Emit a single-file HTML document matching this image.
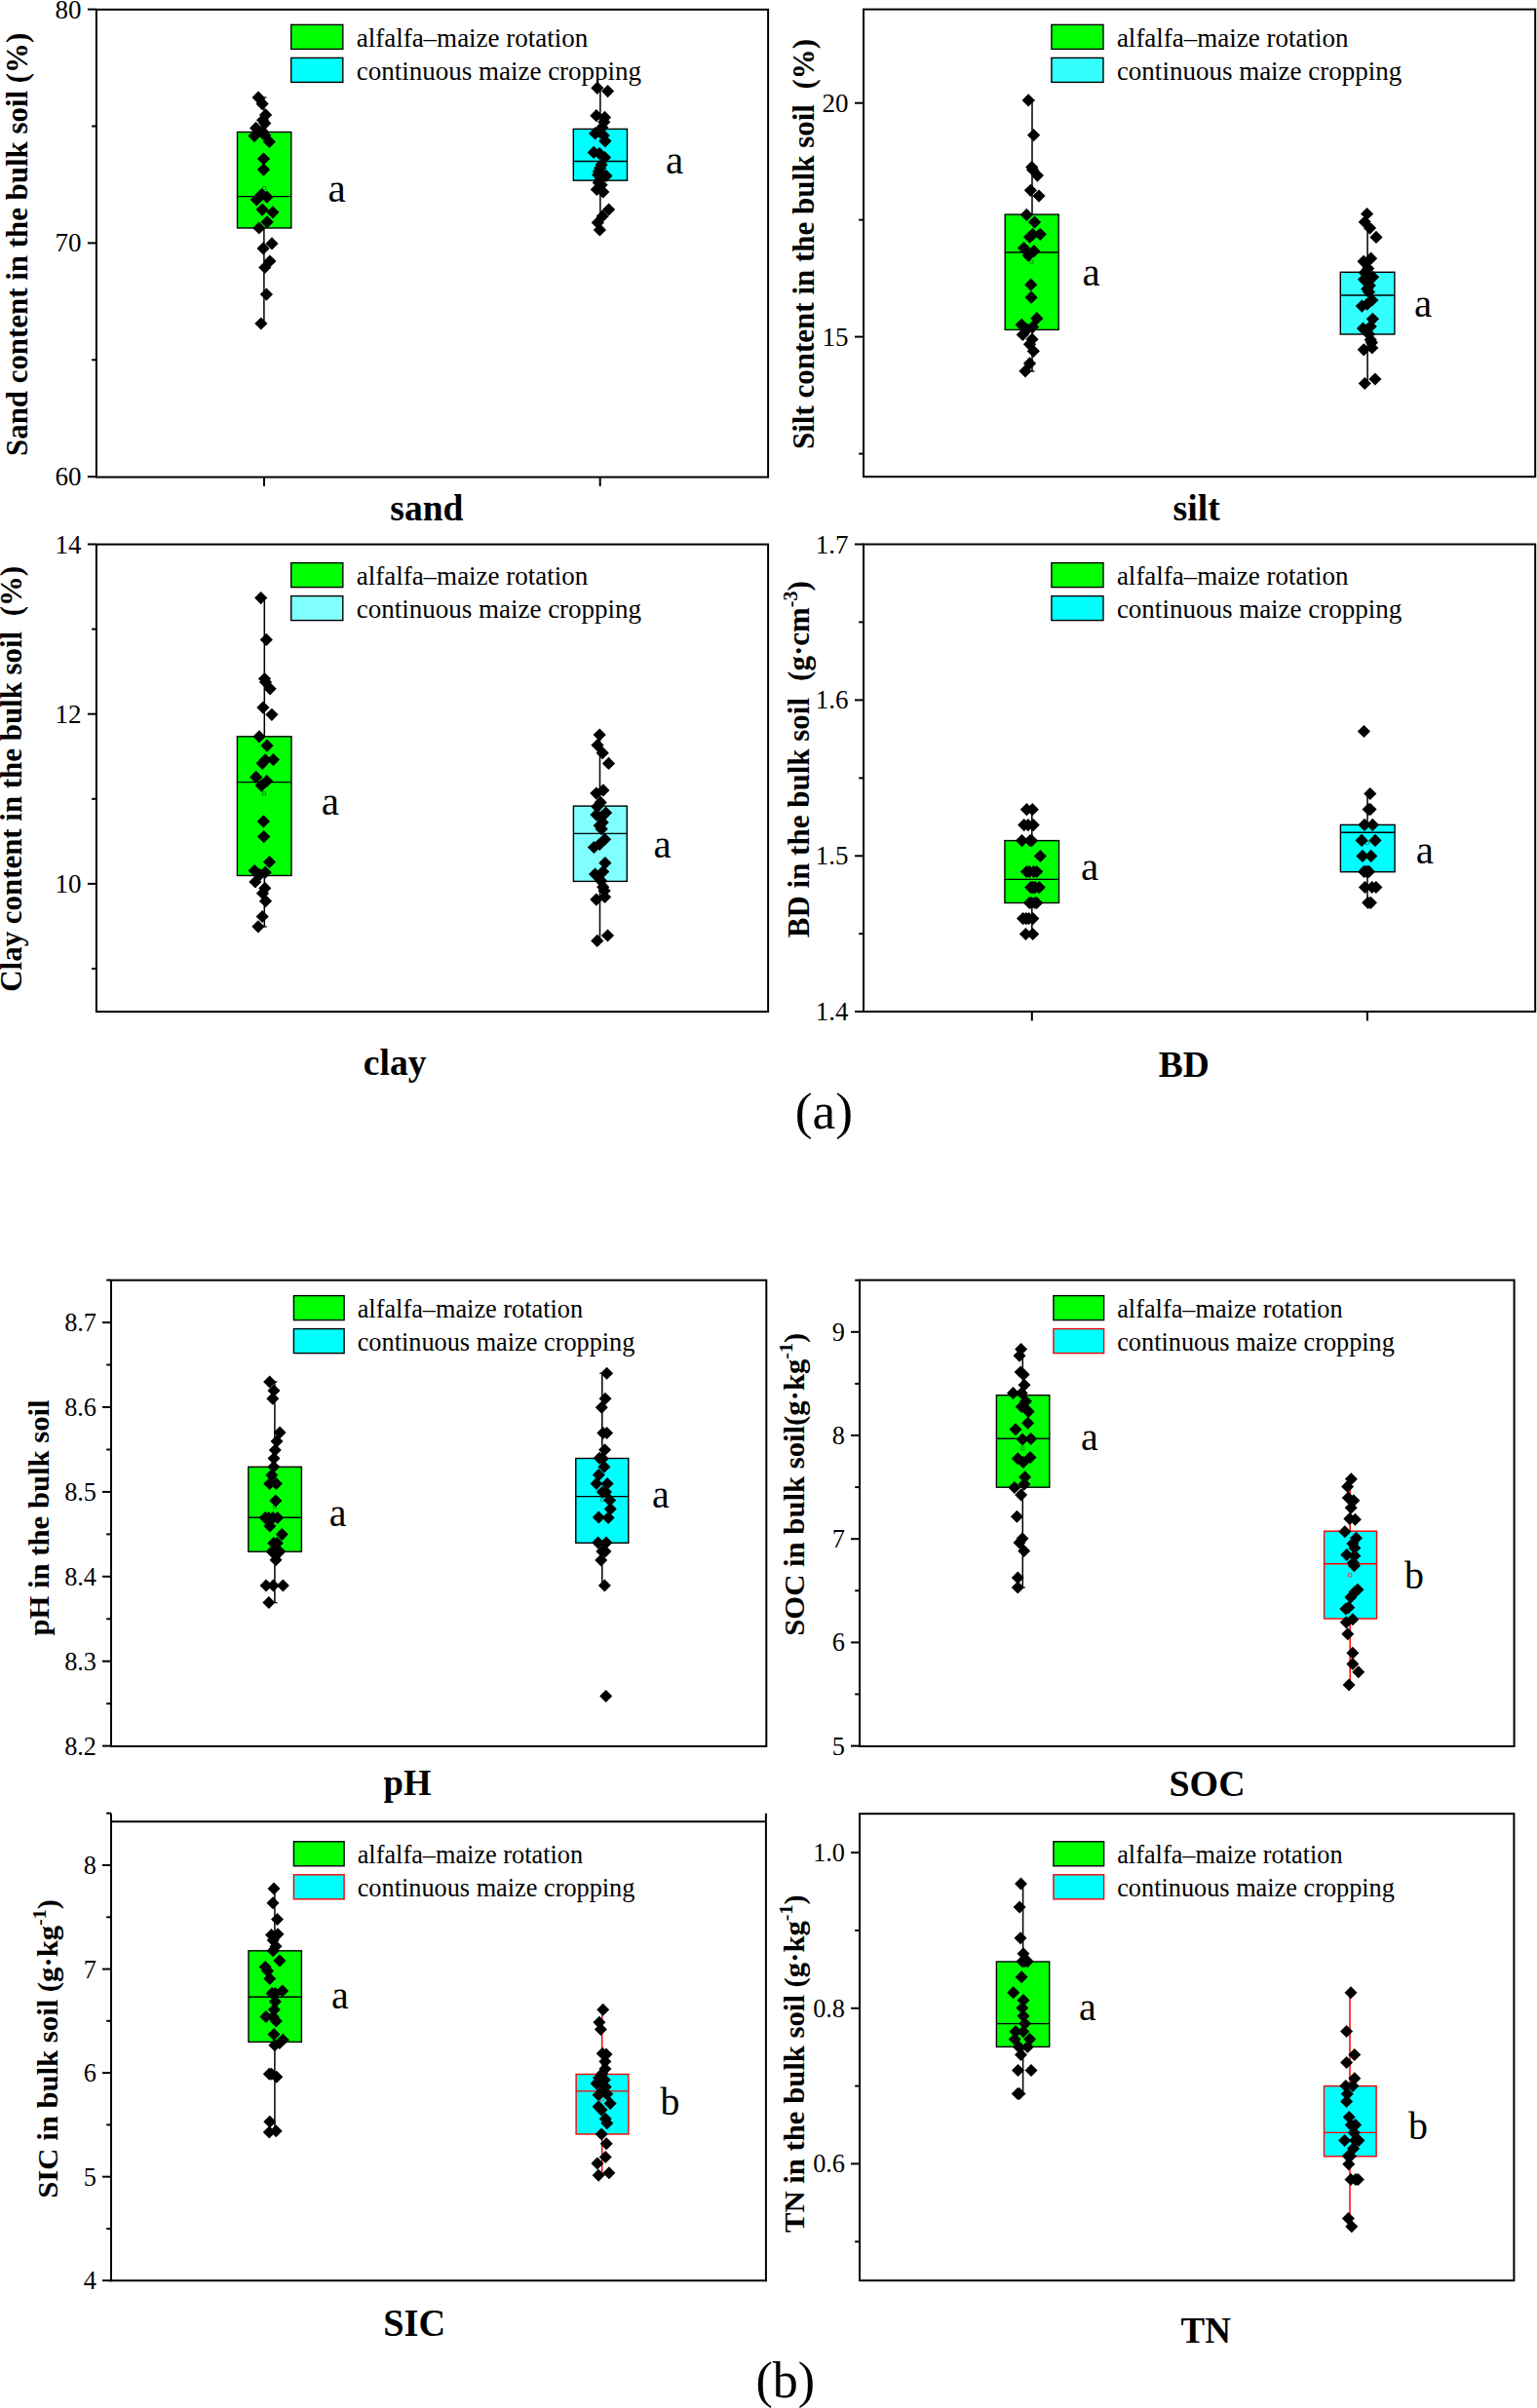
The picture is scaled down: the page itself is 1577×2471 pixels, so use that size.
<!DOCTYPE html>
<html><head><meta charset="utf-8"><title>Figure</title>
<style>html,body{margin:0;padding:0;background:#fff}body{width:1577px;height:2471px;overflow:hidden}</style></head>
<body>
<svg width="1577" height="2471" viewBox="0 0 1577 2471" style="display:block;font-family:'Liberation Serif','Times New Roman',serif" fill="#000">
<rect width="1577" height="2471" fill="#fff"/>
<line x1="270.9" y1="100.0" x2="270.9" y2="332.0" stroke="#000" stroke-width="1.5"/>
<line x1="268.3" y1="100.0" x2="273.5" y2="100.0" stroke="#000" stroke-width="1.2"/>
<line x1="268.3" y1="332.0" x2="273.5" y2="332.0" stroke="#000" stroke-width="1.2"/>
<rect x="243.5" y="135.5" width="55.3" height="98.5" fill="#00ff00" stroke="#000" stroke-width="1.4"/>
<line x1="243.5" y1="201.6" x2="298.8" y2="201.6" stroke="#000" stroke-width="1.4"/>
<rect x="269.6" y="191.7" width="3.2" height="3.2" fill="none" stroke="#007000" stroke-width="0.7"/>
<path d="M265.1 93.5l6.6 6.6l-6.6 6.6l-6.6 -6.6zM269.1 100.0l6.6 6.6l-6.6 6.6l-6.6 -6.6zM272.6 111.3l6.6 6.6l-6.6 6.6l-6.6 -6.6zM269.6 116.7l6.6 6.6l-6.6 6.6l-6.6 -6.6zM271.8 120.0l6.6 6.6l-6.6 6.6l-6.6 -6.6zM262.6 124.8l6.6 6.6l-6.6 6.6l-6.6 -6.6zM269.0 128.1l6.6 6.6l-6.6 6.6l-6.6 -6.6zM261.0 132.9l6.6 6.6l-6.6 6.6l-6.6 -6.6zM271.8 132.4l6.6 6.6l-6.6 6.6l-6.6 -6.6zM276.3 138.9l6.6 6.6l-6.6 6.6l-6.6 -6.6zM270.5 156.4l6.6 6.6l-6.6 6.6l-6.6 -6.6zM270.5 167.5l6.6 6.6l-6.6 6.6l-6.6 -6.6zM268.5 192.9l6.6 6.6l-6.6 6.6l-6.6 -6.6zM273.9 195.6l6.6 6.6l-6.6 6.6l-6.6 -6.6zM263.3 198.3l6.6 6.6l-6.6 6.6l-6.6 -6.6zM269.1 208.5l6.6 6.6l-6.6 6.6l-6.6 -6.6zM279.9 211.2l6.6 6.6l-6.6 6.6l-6.6 -6.6zM274.1 221.2l6.6 6.6l-6.6 6.6l-6.6 -6.6zM265.8 227.4l6.6 6.6l-6.6 6.6l-6.6 -6.6zM279.0 243.3l6.6 6.6l-6.6 6.6l-6.6 -6.6zM270.1 248.3l6.6 6.6l-6.6 6.6l-6.6 -6.6zM276.9 261.4l6.6 6.6l-6.6 6.6l-6.6 -6.6zM271.8 267.9l6.6 6.6l-6.6 6.6l-6.6 -6.6zM273.4 295.5l6.6 6.6l-6.6 6.6l-6.6 -6.6zM267.8 325.4l6.6 6.6l-6.6 6.6l-6.6 -6.6z" fill="#000"/>
<text x="336.5" y="207.4" font-size="41" text-anchor="start">a</text>
<line x1="615.9" y1="90.0" x2="615.9" y2="236.0" stroke="#000" stroke-width="1.5"/>
<line x1="613.3" y1="90.0" x2="618.5" y2="90.0" stroke="#000" stroke-width="1.2"/>
<line x1="613.3" y1="236.0" x2="618.5" y2="236.0" stroke="#000" stroke-width="1.2"/>
<rect x="588.3" y="132.4" width="55.2" height="52.8" fill="#00ffff" stroke="#000" stroke-width="1.4"/>
<line x1="588.3" y1="165.5" x2="643.5" y2="165.5" stroke="#000" stroke-width="1.4"/>
<path d="M612.8 83.7l6.6 6.6l-6.6 6.6l-6.6 -6.6zM623.6 87.0l6.6 6.6l-6.6 6.6l-6.6 -6.6zM611.9 112.1l6.6 6.6l-6.6 6.6l-6.6 -6.6zM620.5 113.8l6.6 6.6l-6.6 6.6l-6.6 -6.6zM619.8 118.6l6.6 6.6l-6.6 6.6l-6.6 -6.6zM617.8 124.1l6.6 6.6l-6.6 6.6l-6.6 -6.6zM610.6 130.3l6.6 6.6l-6.6 6.6l-6.6 -6.6zM619.1 132.3l6.6 6.6l-6.6 6.6l-6.6 -6.6zM620.9 138.2l6.6 6.6l-6.6 6.6l-6.6 -6.6zM609.2 149.8l6.6 6.6l-6.6 6.6l-6.6 -6.6zM615.0 150.9l6.6 6.6l-6.6 6.6l-6.6 -6.6zM620.5 155.0l6.6 6.6l-6.6 6.6l-6.6 -6.6zM617.1 162.5l6.6 6.6l-6.6 6.6l-6.6 -6.6zM615.7 165.9l6.6 6.6l-6.6 6.6l-6.6 -6.6zM614.3 169.4l6.6 6.6l-6.6 6.6l-6.6 -6.6zM613.7 172.8l6.6 6.6l-6.6 6.6l-6.6 -6.6zM621.9 173.8l6.6 6.6l-6.6 6.6l-6.6 -6.6zM615.7 177.6l6.6 6.6l-6.6 6.6l-6.6 -6.6zM614.3 181.0l6.6 6.6l-6.6 6.6l-6.6 -6.6zM617.1 183.1l6.6 6.6l-6.6 6.6l-6.6 -6.6zM612.3 187.9l6.6 6.6l-6.6 6.6l-6.6 -6.6zM618.8 190.3l6.6 6.6l-6.6 6.6l-6.6 -6.6zM624.6 208.4l6.6 6.6l-6.6 6.6l-6.6 -6.6zM618.1 215.3l6.6 6.6l-6.6 6.6l-6.6 -6.6zM613.3 221.8l6.6 6.6l-6.6 6.6l-6.6 -6.6zM615.4 229.3l6.6 6.6l-6.6 6.6l-6.6 -6.6z" fill="#000"/>
<text x="683.0" y="177.7" font-size="41" text-anchor="start">a</text>
<rect x="98.9" y="9.8" width="689.2" height="479.8" fill="none" stroke="#000" stroke-width="2.0"/>
<line x1="89.9" y1="9.6" x2="98.9" y2="9.6" stroke="#000" stroke-width="2.0"/>
<text x="83.4" y="18.6" font-size="27" text-anchor="end">80</text>
<line x1="89.9" y1="249.4" x2="98.9" y2="249.4" stroke="#000" stroke-width="2.0"/>
<text x="83.4" y="258.4" font-size="27" text-anchor="end">70</text>
<line x1="89.9" y1="489.2" x2="98.9" y2="489.2" stroke="#000" stroke-width="2.0"/>
<text x="83.4" y="498.2" font-size="27" text-anchor="end">60</text>
<line x1="94.1" y1="129.5" x2="98.9" y2="129.5" stroke="#000" stroke-width="2.0"/>
<line x1="94.1" y1="369.3" x2="98.9" y2="369.3" stroke="#000" stroke-width="2.0"/>
<line x1="271.0" y1="489.6" x2="271.0" y2="499.0" stroke="#000" stroke-width="2.0"/>
<line x1="615.7" y1="489.6" x2="615.7" y2="499.0" stroke="#000" stroke-width="2.0"/>
<rect x="298.7" y="25.4" width="53.1" height="25.0" fill="#00ff00" stroke="#000" stroke-width="1.4"/>
<text x="365.7" y="47.8" font-size="27" text-anchor="start">alfalfa–maize rotation</text>
<rect x="298.7" y="59.4" width="53.1" height="25.0" fill="#00ffff" stroke="#000" stroke-width="1.4"/>
<text x="365.7" y="81.8" font-size="27" text-anchor="start">continuous maize cropping</text>
<text transform="translate(28.2 468.0) rotate(-90)" font-size="30.9" font-weight="bold" text-anchor="start" xml:space="preserve">Sand content in the bulk soil (%)</text>
<text x="400.3" y="534.0" font-size="37.5" font-weight="bold" text-anchor="start">sand</text>
<line x1="1059.0" y1="103.0" x2="1059.0" y2="381.0" stroke="#000" stroke-width="1.5"/>
<line x1="1056.4" y1="103.0" x2="1061.6" y2="103.0" stroke="#000" stroke-width="1.2"/>
<line x1="1056.4" y1="381.0" x2="1061.6" y2="381.0" stroke="#000" stroke-width="1.2"/>
<rect x="1031.2" y="220.1" width="55.0" height="118.3" fill="#00ff00" stroke="#000" stroke-width="1.4"/>
<line x1="1031.2" y1="259.0" x2="1086.2" y2="259.0" stroke="#000" stroke-width="1.4"/>
<rect x="1056.8" y="267.1" width="3.2" height="3.2" fill="none" stroke="#007000" stroke-width="0.7"/>
<path d="M1055.2 96.3l6.6 6.6l-6.6 6.6l-6.6 -6.6zM1060.6 132.1l6.6 6.6l-6.6 6.6l-6.6 -6.6zM1058.7 165.0l6.6 6.6l-6.6 6.6l-6.6 -6.6zM1059.6 167.6l6.6 6.6l-6.6 6.6l-6.6 -6.6zM1064.4 173.5l6.6 6.6l-6.6 6.6l-6.6 -6.6zM1057.4 188.7l6.6 6.6l-6.6 6.6l-6.6 -6.6zM1066.0 194.5l6.6 6.6l-6.6 6.6l-6.6 -6.6zM1053.3 213.8l6.6 6.6l-6.6 6.6l-6.6 -6.6zM1061.5 221.4l6.6 6.6l-6.6 6.6l-6.6 -6.6zM1067.2 233.7l6.6 6.6l-6.6 6.6l-6.6 -6.6zM1056.5 236.6l6.6 6.6l-6.6 6.6l-6.6 -6.6zM1059.6 234.0l6.6 6.6l-6.6 6.6l-6.6 -6.6zM1050.5 248.0l6.6 6.6l-6.6 6.6l-6.6 -6.6zM1060.9 251.1l6.6 6.6l-6.6 6.6l-6.6 -6.6zM1055.2 255.6l6.6 6.6l-6.6 6.6l-6.6 -6.6zM1057.7 285.6l6.6 6.6l-6.6 6.6l-6.6 -6.6zM1058.1 298.6l6.6 6.6l-6.6 6.6l-6.6 -6.6zM1063.8 320.1l6.6 6.6l-6.6 6.6l-6.6 -6.6zM1048.2 326.7l6.6 6.6l-6.6 6.6l-6.6 -6.6zM1059.6 329.0l6.6 6.6l-6.6 6.6l-6.6 -6.6zM1053.9 331.5l6.6 6.6l-6.6 6.6l-6.6 -6.6zM1049.3 336.8l6.6 6.6l-6.6 6.6l-6.6 -6.6zM1059.0 341.6l6.6 6.6l-6.6 6.6l-6.6 -6.6zM1056.5 346.7l6.6 6.6l-6.6 6.6l-6.6 -6.6zM1060.3 353.7l6.6 6.6l-6.6 6.6l-6.6 -6.6zM1056.5 366.3l6.6 6.6l-6.6 6.6l-6.6 -6.6zM1052.0 374.2l6.6 6.6l-6.6 6.6l-6.6 -6.6z" fill="#000"/>
<text x="1110.6" y="293.4" font-size="41" text-anchor="start">a</text>
<line x1="1403.1" y1="219.5" x2="1403.1" y2="393.5" stroke="#000" stroke-width="1.5"/>
<line x1="1400.5" y1="219.5" x2="1405.7" y2="219.5" stroke="#000" stroke-width="1.2"/>
<line x1="1400.5" y1="393.5" x2="1405.7" y2="393.5" stroke="#000" stroke-width="1.2"/>
<rect x="1375.3" y="279.3" width="55.6" height="63.7" fill="#33ffff" stroke="#000" stroke-width="1.4"/>
<line x1="1375.3" y1="303.0" x2="1430.9" y2="303.0" stroke="#000" stroke-width="1.4"/>
<path d="M1402.6 212.9l6.6 6.6l-6.6 6.6l-6.6 -6.6zM1400.3 221.2l6.6 6.6l-6.6 6.6l-6.6 -6.6zM1405.5 227.5l6.6 6.6l-6.6 6.6l-6.6 -6.6zM1412.0 236.8l6.6 6.6l-6.6 6.6l-6.6 -6.6zM1406.6 258.6l6.6 6.6l-6.6 6.6l-6.6 -6.6zM1399.1 261.7l6.6 6.6l-6.6 6.6l-6.6 -6.6zM1403.7 269.0l6.6 6.6l-6.6 6.6l-6.6 -6.6zM1400.3 273.2l6.6 6.6l-6.6 6.6l-6.6 -6.6zM1408.6 277.7l6.6 6.6l-6.6 6.6l-6.6 -6.6zM1399.5 280.2l6.6 6.6l-6.6 6.6l-6.6 -6.6zM1403.7 282.3l6.6 6.6l-6.6 6.6l-6.6 -6.6zM1405.3 286.4l6.6 6.6l-6.6 6.6l-6.6 -6.6zM1402.8 289.8l6.6 6.6l-6.6 6.6l-6.6 -6.6zM1404.5 293.1l6.6 6.6l-6.6 6.6l-6.6 -6.6zM1407.8 301.4l6.6 6.6l-6.6 6.6l-6.6 -6.6zM1402.8 305.5l6.6 6.6l-6.6 6.6l-6.6 -6.6zM1397.4 307.5l6.6 6.6l-6.6 6.6l-6.6 -6.6zM1408.4 320.7l6.6 6.6l-6.6 6.6l-6.6 -6.6zM1406.2 328.4l6.6 6.6l-6.6 6.6l-6.6 -6.6zM1398.5 330.5l6.6 6.6l-6.6 6.6l-6.6 -6.6zM1404.5 336.3l6.6 6.6l-6.6 6.6l-6.6 -6.6zM1406.2 342.1l6.6 6.6l-6.6 6.6l-6.6 -6.6zM1407.4 345.0l6.6 6.6l-6.6 6.6l-6.6 -6.6zM1407.8 350.4l6.6 6.6l-6.6 6.6l-6.6 -6.6zM1399.3 352.2l6.6 6.6l-6.6 6.6l-6.6 -6.6zM1410.9 382.4l6.6 6.6l-6.6 6.6l-6.6 -6.6zM1400.3 386.9l6.6 6.6l-6.6 6.6l-6.6 -6.6z" fill="#000"/>
<text x="1451.0" y="325.1" font-size="41" text-anchor="start">a</text>
<rect x="886.0" y="9.6" width="689.2" height="479.6" fill="none" stroke="#000" stroke-width="2.0"/>
<line x1="877.0" y1="105.7" x2="886.0" y2="105.7" stroke="#000" stroke-width="2.0"/>
<text x="870.5" y="114.7" font-size="27" text-anchor="end">20</text>
<line x1="877.0" y1="345.6" x2="886.0" y2="345.6" stroke="#000" stroke-width="2.0"/>
<text x="870.5" y="354.6" font-size="27" text-anchor="end">15</text>
<line x1="881.2" y1="225.6" x2="886.0" y2="225.6" stroke="#000" stroke-width="2.0"/>
<line x1="881.2" y1="465.6" x2="886.0" y2="465.6" stroke="#000" stroke-width="2.0"/>
<rect x="1078.9" y="25.4" width="53.1" height="25.0" fill="#00ff00" stroke="#000" stroke-width="1.4"/>
<text x="1145.9" y="47.8" font-size="27" text-anchor="start">alfalfa–maize rotation</text>
<rect x="1078.9" y="59.4" width="53.1" height="25.0" fill="#33ffff" stroke="#000" stroke-width="1.4"/>
<text x="1145.9" y="81.8" font-size="27" text-anchor="start">continuous maize cropping</text>
<text transform="translate(834.8 461.0) rotate(-90)" font-size="31" font-weight="bold" text-anchor="start" xml:space="preserve">Silt content in the bulk soil  (%)</text>
<text x="1203.5" y="533.7" font-size="37.8" font-weight="bold" text-anchor="start">silt</text>
<line x1="271.3" y1="613.6" x2="271.3" y2="951.0" stroke="#000" stroke-width="1.5"/>
<line x1="268.7" y1="613.6" x2="273.9" y2="613.6" stroke="#000" stroke-width="1.2"/>
<line x1="268.7" y1="951.0" x2="273.9" y2="951.0" stroke="#000" stroke-width="1.2"/>
<rect x="243.4" y="755.8" width="55.6" height="142.7" fill="#00ff00" stroke="#000" stroke-width="1.4"/>
<line x1="243.4" y1="802.6" x2="299.0" y2="802.6" stroke="#000" stroke-width="1.4"/>
<rect x="269.4" y="812.8" width="3.2" height="3.2" fill="none" stroke="#007000" stroke-width="0.7"/>
<path d="M267.7 607.0l6.6 6.6l-6.6 6.6l-6.6 -6.6zM273.3 649.8l6.6 6.6l-6.6 6.6l-6.6 -6.6zM271.5 689.9l6.6 6.6l-6.6 6.6l-6.6 -6.6zM272.5 693.4l6.6 6.6l-6.6 6.6l-6.6 -6.6zM277.1 700.2l6.6 6.6l-6.6 6.6l-6.6 -6.6zM269.9 719.5l6.6 6.6l-6.6 6.6l-6.6 -6.6zM278.9 726.7l6.6 6.6l-6.6 6.6l-6.6 -6.6zM266.0 749.2l6.6 6.6l-6.6 6.6l-6.6 -6.6zM274.0 758.6l6.6 6.6l-6.6 6.6l-6.6 -6.6zM280.4 772.9l6.6 6.6l-6.6 6.6l-6.6 -6.6zM269.2 776.7l6.6 6.6l-6.6 6.6l-6.6 -6.6zM272.2 773.2l6.6 6.6l-6.6 6.6l-6.6 -6.6zM262.7 790.8l6.6 6.6l-6.6 6.6l-6.6 -6.6zM273.7 794.9l6.6 6.6l-6.6 6.6l-6.6 -6.6zM268.3 799.5l6.6 6.6l-6.6 6.6l-6.6 -6.6zM270.4 836.3l6.6 6.6l-6.6 6.6l-6.6 -6.6zM270.7 852.0l6.6 6.6l-6.6 6.6l-6.6 -6.6zM276.5 877.9l6.6 6.6l-6.6 6.6l-6.6 -6.6zM261.2 886.9l6.6 6.6l-6.6 6.6l-6.6 -6.6zM272.2 888.6l6.6 6.6l-6.6 6.6l-6.6 -6.6zM266.5 891.1l6.6 6.6l-6.6 6.6l-6.6 -6.6zM261.9 898.4l6.6 6.6l-6.6 6.6l-6.6 -6.6zM271.8 904.8l6.6 6.6l-6.6 6.6l-6.6 -6.6zM269.5 910.1l6.6 6.6l-6.6 6.6l-6.6 -6.6zM272.5 918.1l6.6 6.6l-6.6 6.6l-6.6 -6.6zM269.2 933.9l6.6 6.6l-6.6 6.6l-6.6 -6.6zM264.9 944.2l6.6 6.6l-6.6 6.6l-6.6 -6.6z" fill="#000"/>
<text x="329.8" y="836.4" font-size="41" text-anchor="start">a</text>
<line x1="615.5" y1="754.0" x2="615.5" y2="965.4" stroke="#000" stroke-width="1.5"/>
<line x1="612.9" y1="754.0" x2="618.1" y2="754.0" stroke="#000" stroke-width="1.2"/>
<line x1="612.9" y1="965.4" x2="618.1" y2="965.4" stroke="#000" stroke-width="1.2"/>
<rect x="588.4" y="827.1" width="54.9" height="77.3" fill="#80ffff" stroke="#000" stroke-width="1.4"/>
<line x1="588.4" y1="855.4" x2="643.3" y2="855.4" stroke="#000" stroke-width="1.4"/>
<path d="M615.2 747.5l6.6 6.6l-6.6 6.6l-6.6 -6.6zM613.0 758.0l6.6 6.6l-6.6 6.6l-6.6 -6.6zM618.2 766.1l6.6 6.6l-6.6 6.6l-6.6 -6.6zM624.5 776.8l6.6 6.6l-6.6 6.6l-6.6 -6.6zM618.9 804.3l6.6 6.6l-6.6 6.6l-6.6 -6.6zM611.8 807.5l6.6 6.6l-6.6 6.6l-6.6 -6.6zM616.2 816.8l6.6 6.6l-6.6 6.6l-6.6 -6.6zM612.8 821.2l6.6 6.6l-6.6 6.6l-6.6 -6.6zM621.6 827.5l6.6 6.6l-6.6 6.6l-6.6 -6.6zM612.0 829.5l6.6 6.6l-6.6 6.6l-6.6 -6.6zM616.7 831.9l6.6 6.6l-6.6 6.6l-6.6 -6.6zM618.2 837.3l6.6 6.6l-6.6 6.6l-6.6 -6.6zM615.2 840.7l6.6 6.6l-6.6 6.6l-6.6 -6.6zM617.2 844.1l6.6 6.6l-6.6 6.6l-6.6 -6.6zM620.6 854.7l6.6 6.6l-6.6 6.6l-6.6 -6.6zM615.2 859.7l6.6 6.6l-6.6 6.6l-6.6 -6.6zM609.4 862.9l6.6 6.6l-6.6 6.6l-6.6 -6.6zM620.9 879.0l6.6 6.6l-6.6 6.6l-6.6 -6.6zM618.7 888.0l6.6 6.6l-6.6 6.6l-6.6 -6.6zM610.6 890.5l6.6 6.6l-6.6 6.6l-6.6 -6.6zM616.7 897.3l6.6 6.6l-6.6 6.6l-6.6 -6.6zM618.7 903.6l6.6 6.6l-6.6 6.6l-6.6 -6.6zM620.1 907.5l6.6 6.6l-6.6 6.6l-6.6 -6.6zM620.6 913.9l6.6 6.6l-6.6 6.6l-6.6 -6.6zM611.8 916.5l6.6 6.6l-6.6 6.6l-6.6 -6.6zM623.5 953.4l6.6 6.6l-6.6 6.6l-6.6 -6.6zM612.8 958.8l6.6 6.6l-6.6 6.6l-6.6 -6.6z" fill="#000"/>
<text x="670.5" y="879.9" font-size="41" text-anchor="start">a</text>
<rect x="98.9" y="558.6" width="689.2" height="479.6" fill="none" stroke="#000" stroke-width="2.0"/>
<line x1="89.9" y1="558.5" x2="98.9" y2="558.5" stroke="#000" stroke-width="2.0"/>
<text x="83.4" y="567.5" font-size="27" text-anchor="end">14</text>
<line x1="89.9" y1="732.7" x2="98.9" y2="732.7" stroke="#000" stroke-width="2.0"/>
<text x="83.4" y="741.7" font-size="27" text-anchor="end">12</text>
<line x1="89.9" y1="906.9" x2="98.9" y2="906.9" stroke="#000" stroke-width="2.0"/>
<text x="83.4" y="915.9" font-size="27" text-anchor="end">10</text>
<line x1="94.1" y1="645.6" x2="98.9" y2="645.6" stroke="#000" stroke-width="2.0"/>
<line x1="94.1" y1="819.8" x2="98.9" y2="819.8" stroke="#000" stroke-width="2.0"/>
<line x1="94.1" y1="994.0" x2="98.9" y2="994.0" stroke="#000" stroke-width="2.0"/>
<rect x="298.7" y="577.6" width="53.1" height="25.0" fill="#00ff00" stroke="#000" stroke-width="1.4"/>
<text x="365.7" y="600.0" font-size="27" text-anchor="start">alfalfa–maize rotation</text>
<rect x="298.7" y="611.6" width="53.1" height="25.0" fill="#80ffff" stroke="#000" stroke-width="1.4"/>
<text x="365.7" y="634.0" font-size="27" text-anchor="start">continuous maize cropping</text>
<text transform="translate(22.3 1017.7) rotate(-90)" font-size="30.9" font-weight="bold" text-anchor="start" xml:space="preserve">Clay content in the bulk soil  (%)</text>
<text x="372.8" y="1103.0" font-size="37.6" font-weight="bold" text-anchor="start">clay</text>
<line x1="1058.8" y1="830.7" x2="1058.8" y2="958.5" stroke="#000" stroke-width="1.5"/>
<line x1="1056.2" y1="830.7" x2="1061.4" y2="830.7" stroke="#000" stroke-width="1.2"/>
<line x1="1056.2" y1="958.5" x2="1061.4" y2="958.5" stroke="#000" stroke-width="1.2"/>
<rect x="1030.9" y="862.6" width="55.6" height="63.9" fill="#00ff00" stroke="#000" stroke-width="1.4"/>
<line x1="1030.9" y1="902.4" x2="1086.5" y2="902.4" stroke="#000" stroke-width="1.4"/>
<path d="M1053.4 824.1l6.6 6.6l-6.6 6.6l-6.6 -6.6zM1059.3 824.1l6.6 6.6l-6.6 6.6l-6.6 -6.6zM1050.7 840.0l6.6 6.6l-6.6 6.6l-6.6 -6.6zM1054.9 840.0l6.6 6.6l-6.6 6.6l-6.6 -6.6zM1060.2 840.0l6.6 6.6l-6.6 6.6l-6.6 -6.6zM1048.5 856.0l6.6 6.6l-6.6 6.6l-6.6 -6.6zM1057.0 856.0l6.6 6.6l-6.6 6.6l-6.6 -6.6zM1058.4 856.0l6.6 6.6l-6.6 6.6l-6.6 -6.6zM1067.3 871.9l6.6 6.6l-6.6 6.6l-6.6 -6.6zM1053.5 887.9l6.6 6.6l-6.6 6.6l-6.6 -6.6zM1056.3 887.9l6.6 6.6l-6.6 6.6l-6.6 -6.6zM1060.6 887.9l6.6 6.6l-6.6 6.6l-6.6 -6.6zM1063.7 887.9l6.6 6.6l-6.6 6.6l-6.6 -6.6zM1057.7 904.0l6.6 6.6l-6.6 6.6l-6.6 -6.6zM1059.8 904.0l6.6 6.6l-6.6 6.6l-6.6 -6.6zM1062.0 904.0l6.6 6.6l-6.6 6.6l-6.6 -6.6zM1066.2 904.0l6.6 6.6l-6.6 6.6l-6.6 -6.6zM1056.3 919.9l6.6 6.6l-6.6 6.6l-6.6 -6.6zM1058.4 919.9l6.6 6.6l-6.6 6.6l-6.6 -6.6zM1062.0 919.9l6.6 6.6l-6.6 6.6l-6.6 -6.6zM1063.7 919.9l6.6 6.6l-6.6 6.6l-6.6 -6.6zM1049.6 936.0l6.6 6.6l-6.6 6.6l-6.6 -6.6zM1052.8 936.0l6.6 6.6l-6.6 6.6l-6.6 -6.6zM1055.6 936.0l6.6 6.6l-6.6 6.6l-6.6 -6.6zM1059.8 936.0l6.6 6.6l-6.6 6.6l-6.6 -6.6zM1052.4 951.9l6.6 6.6l-6.6 6.6l-6.6 -6.6zM1059.7 951.9l6.6 6.6l-6.6 6.6l-6.6 -6.6z" fill="#000"/>
<text x="1108.9" y="903.3" font-size="41" text-anchor="start">a</text>
<line x1="1403.0" y1="814.5" x2="1403.0" y2="926.3" stroke="#000" stroke-width="1.5"/>
<line x1="1400.4" y1="814.5" x2="1405.6" y2="814.5" stroke="#000" stroke-width="1.2"/>
<line x1="1400.4" y1="926.3" x2="1405.6" y2="926.3" stroke="#000" stroke-width="1.2"/>
<rect x="1375.4" y="846.4" width="55.7" height="48.3" fill="#00ffff" stroke="#000" stroke-width="1.4"/>
<line x1="1375.4" y1="854.2" x2="1431.1" y2="854.2" stroke="#000" stroke-width="1.4"/>
<rect x="1401.4" y="863.4" width="3.2" height="3.2" fill="none" stroke="#007070" stroke-width="0.7"/>
<path d="M1399.4 743.9l6.6 6.6l-6.6 6.6l-6.6 -6.6zM1405.8 807.9l6.6 6.6l-6.6 6.6l-6.6 -6.6zM1404.1 823.9l6.6 6.6l-6.6 6.6l-6.6 -6.6zM1406.0 823.9l6.6 6.6l-6.6 6.6l-6.6 -6.6zM1400.0 839.8l6.6 6.6l-6.6 6.6l-6.6 -6.6zM1408.3 839.8l6.6 6.6l-6.6 6.6l-6.6 -6.6zM1397.1 855.8l6.6 6.6l-6.6 6.6l-6.6 -6.6zM1411.0 855.8l6.6 6.6l-6.6 6.6l-6.6 -6.6zM1398.0 871.8l6.6 6.6l-6.6 6.6l-6.6 -6.6zM1406.7 871.8l6.6 6.6l-6.6 6.6l-6.6 -6.6zM1399.6 887.8l6.6 6.6l-6.6 6.6l-6.6 -6.6zM1402.3 887.8l6.6 6.6l-6.6 6.6l-6.6 -6.6zM1404.6 887.8l6.6 6.6l-6.6 6.6l-6.6 -6.6zM1400.5 903.9l6.6 6.6l-6.6 6.6l-6.6 -6.6zM1407.8 903.9l6.6 6.6l-6.6 6.6l-6.6 -6.6zM1411.9 903.9l6.6 6.6l-6.6 6.6l-6.6 -6.6zM1403.7 919.7l6.6 6.6l-6.6 6.6l-6.6 -6.6zM1406.4 919.7l6.6 6.6l-6.6 6.6l-6.6 -6.6z" fill="#000"/>
<text x="1452.7" y="885.6" font-size="41" text-anchor="start">a</text>
<rect x="886.0" y="558.5" width="689.2" height="479.6" fill="none" stroke="#000" stroke-width="2.0"/>
<line x1="877.0" y1="558.5" x2="886.0" y2="558.5" stroke="#000" stroke-width="2.0"/>
<text x="870.5" y="567.5" font-size="27" text-anchor="end">1.7</text>
<line x1="877.0" y1="718.4" x2="886.0" y2="718.4" stroke="#000" stroke-width="2.0"/>
<text x="870.5" y="727.4" font-size="27" text-anchor="end">1.6</text>
<line x1="877.0" y1="878.3" x2="886.0" y2="878.3" stroke="#000" stroke-width="2.0"/>
<text x="870.5" y="887.3" font-size="27" text-anchor="end">1.5</text>
<line x1="877.0" y1="1038.1" x2="886.0" y2="1038.1" stroke="#000" stroke-width="2.0"/>
<text x="870.5" y="1047.1" font-size="27" text-anchor="end">1.4</text>
<line x1="881.2" y1="638.4" x2="886.0" y2="638.4" stroke="#000" stroke-width="2.0"/>
<line x1="881.2" y1="798.4" x2="886.0" y2="798.4" stroke="#000" stroke-width="2.0"/>
<line x1="881.2" y1="958.2" x2="886.0" y2="958.2" stroke="#000" stroke-width="2.0"/>
<line x1="1058.8" y1="1038.1" x2="1058.8" y2="1047.5" stroke="#000" stroke-width="2.0"/>
<line x1="1402.9" y1="1038.1" x2="1402.9" y2="1047.5" stroke="#000" stroke-width="2.0"/>
<rect x="1078.9" y="577.6" width="53.1" height="25.0" fill="#00ff00" stroke="#000" stroke-width="1.4"/>
<text x="1145.9" y="600.0" font-size="27" text-anchor="start">alfalfa–maize rotation</text>
<rect x="1078.9" y="611.6" width="53.1" height="25.0" fill="#00ffff" stroke="#000" stroke-width="1.4"/>
<text x="1145.9" y="634.0" font-size="27" text-anchor="start">continuous maize cropping</text>
<text transform="translate(830.3 962.3) rotate(-90)" font-size="31" font-weight="bold" text-anchor="start" xml:space="preserve">BD in the bulk soil  <tspan dx="1.5">(g·cm<tspan font-size="20" dy="-12.4">-3</tspan><tspan dy="12.4">)</tspan></tspan></text>
<text x="1188.8" y="1105.0" font-size="37.5" font-weight="bold" text-anchor="start">BD</text>
<line x1="281.9" y1="1418.0" x2="281.9" y2="1644.6" stroke="#000" stroke-width="1.5"/>
<line x1="279.3" y1="1418.0" x2="284.5" y2="1418.0" stroke="#000" stroke-width="1.2"/>
<line x1="279.3" y1="1644.6" x2="284.5" y2="1644.6" stroke="#000" stroke-width="1.2"/>
<rect x="254.8" y="1505.3" width="54.6" height="87.0" fill="#00ff00" stroke="#000" stroke-width="1.4"/>
<line x1="254.8" y1="1557.2" x2="309.4" y2="1557.2" stroke="#000" stroke-width="1.4"/>
<rect x="280.3" y="1544.7" width="3.2" height="3.2" fill="none" stroke="#007000" stroke-width="0.7"/>
<path d="M276.6 1411.5l6.5 6.5l-6.5 6.5l-6.5 -6.5zM281.0 1420.6l6.5 6.5l-6.5 6.5l-6.5 -6.5zM279.8 1428.7l6.5 6.5l-6.5 6.5l-6.5 -6.5zM287.1 1463.5l6.5 6.5l-6.5 6.5l-6.5 -6.5zM284.0 1472.5l6.5 6.5l-6.5 6.5l-6.5 -6.5zM282.3 1481.4l6.5 6.5l-6.5 6.5l-6.5 -6.5zM281.0 1489.9l6.5 6.5l-6.5 6.5l-6.5 -6.5zM280.8 1498.8l6.5 6.5l-6.5 6.5l-6.5 -6.5zM278.8 1507.3l6.5 6.5l-6.5 6.5l-6.5 -6.5zM276.7 1516.0l6.5 6.5l-6.5 6.5l-6.5 -6.5zM283.4 1516.0l6.5 6.5l-6.5 6.5l-6.5 -6.5zM282.8 1533.5l6.5 6.5l-6.5 6.5l-6.5 -6.5zM272.1 1550.9l6.5 6.5l-6.5 6.5l-6.5 -6.5zM275.6 1550.9l6.5 6.5l-6.5 6.5l-6.5 -6.5zM280.0 1550.9l6.5 6.5l-6.5 6.5l-6.5 -6.5zM284.7 1550.9l6.5 6.5l-6.5 6.5l-6.5 -6.5zM276.9 1559.6l6.5 6.5l-6.5 6.5l-6.5 -6.5zM289.3 1568.1l6.5 6.5l-6.5 6.5l-6.5 -6.5zM280.8 1576.9l6.5 6.5l-6.5 6.5l-6.5 -6.5zM284.3 1576.9l6.5 6.5l-6.5 6.5l-6.5 -6.5zM279.1 1585.8l6.5 6.5l-6.5 6.5l-6.5 -6.5zM282.6 1585.8l6.5 6.5l-6.5 6.5l-6.5 -6.5zM286.9 1585.8l6.5 6.5l-6.5 6.5l-6.5 -6.5zM283.0 1594.3l6.5 6.5l-6.5 6.5l-6.5 -6.5zM273.0 1620.6l6.5 6.5l-6.5 6.5l-6.5 -6.5zM280.4 1620.6l6.5 6.5l-6.5 6.5l-6.5 -6.5zM290.4 1620.6l6.5 6.5l-6.5 6.5l-6.5 -6.5zM275.9 1638.1l6.5 6.5l-6.5 6.5l-6.5 -6.5z" fill="#000"/>
<text transform="translate(337.8 1566.4) scale(0.974 1)" font-size="41" text-anchor="start">a</text>
<line x1="617.8" y1="1409.3" x2="617.8" y2="1627.0" stroke="#000" stroke-width="1.5"/>
<line x1="615.2" y1="1409.3" x2="620.4" y2="1409.3" stroke="#000" stroke-width="1.2"/>
<line x1="615.2" y1="1627.0" x2="620.4" y2="1627.0" stroke="#000" stroke-width="1.2"/>
<rect x="590.8" y="1496.5" width="54.0" height="86.8" fill="#00ffff" stroke="#000" stroke-width="1.4"/>
<line x1="590.8" y1="1535.6" x2="644.8" y2="1535.6" stroke="#000" stroke-width="1.4"/>
<rect x="616.2" y="1537.1" width="3.2" height="3.2" fill="none" stroke="#007070" stroke-width="0.7"/>
<path d="M622.6 1402.8l6.5 6.5l-6.5 6.5l-6.5 -6.5zM621.0 1428.8l6.5 6.5l-6.5 6.5l-6.5 -6.5zM617.3 1437.8l6.5 6.5l-6.5 6.5l-6.5 -6.5zM618.8 1463.9l6.5 6.5l-6.5 6.5l-6.5 -6.5zM622.6 1463.9l6.5 6.5l-6.5 6.5l-6.5 -6.5zM620.6 1481.2l6.5 6.5l-6.5 6.5l-6.5 -6.5zM615.1 1489.7l6.5 6.5l-6.5 6.5l-6.5 -6.5zM618.3 1490.2l6.5 6.5l-6.5 6.5l-6.5 -6.5zM619.9 1498.7l6.5 6.5l-6.5 6.5l-6.5 -6.5zM614.3 1507.1l6.5 6.5l-6.5 6.5l-6.5 -6.5zM612.0 1515.9l6.5 6.5l-6.5 6.5l-6.5 -6.5zM623.1 1515.9l6.5 6.5l-6.5 6.5l-6.5 -6.5zM618.3 1524.6l6.5 6.5l-6.5 6.5l-6.5 -6.5zM621.5 1524.6l6.5 6.5l-6.5 6.5l-6.5 -6.5zM625.7 1533.1l6.5 6.5l-6.5 6.5l-6.5 -6.5zM626.3 1542.1l6.5 6.5l-6.5 6.5l-6.5 -6.5zM614.3 1550.6l6.5 6.5l-6.5 6.5l-6.5 -6.5zM624.1 1551.1l6.5 6.5l-6.5 6.5l-6.5 -6.5zM613.6 1576.5l6.5 6.5l-6.5 6.5l-6.5 -6.5zM622.0 1576.5l6.5 6.5l-6.5 6.5l-6.5 -6.5zM617.8 1585.5l6.5 6.5l-6.5 6.5l-6.5 -6.5zM621.0 1585.5l6.5 6.5l-6.5 6.5l-6.5 -6.5zM616.7 1594.5l6.5 6.5l-6.5 6.5l-6.5 -6.5zM620.4 1620.5l6.5 6.5l-6.5 6.5l-6.5 -6.5zM621.7 1734.1l6.5 6.5l-6.5 6.5l-6.5 -6.5z" fill="#000"/>
<text transform="translate(668.9 1547.2) scale(0.974 1)" font-size="41" text-anchor="start">a</text>
<rect x="114.0" y="1313.7" width="672.3" height="478.3" fill="none" stroke="#000" stroke-width="2.0"/>
<line x1="105.0" y1="1357.1" x2="114.0" y2="1357.1" stroke="#000" stroke-width="2.0"/>
<text transform="translate(99.0 1366.1) scale(0.974 1)" font-size="27" text-anchor="end">8.7</text>
<line x1="105.0" y1="1444.0" x2="114.0" y2="1444.0" stroke="#000" stroke-width="2.0"/>
<text transform="translate(99.0 1453.0) scale(0.974 1)" font-size="27" text-anchor="end">8.6</text>
<line x1="105.0" y1="1530.9" x2="114.0" y2="1530.9" stroke="#000" stroke-width="2.0"/>
<text transform="translate(99.0 1539.9) scale(0.974 1)" font-size="27" text-anchor="end">8.5</text>
<line x1="105.0" y1="1617.8" x2="114.0" y2="1617.8" stroke="#000" stroke-width="2.0"/>
<text transform="translate(99.0 1626.8) scale(0.974 1)" font-size="27" text-anchor="end">8.4</text>
<line x1="105.0" y1="1704.7" x2="114.0" y2="1704.7" stroke="#000" stroke-width="2.0"/>
<text transform="translate(99.0 1713.7) scale(0.974 1)" font-size="27" text-anchor="end">8.3</text>
<line x1="105.0" y1="1791.6" x2="114.0" y2="1791.6" stroke="#000" stroke-width="2.0"/>
<text transform="translate(99.0 1800.6) scale(0.974 1)" font-size="27" text-anchor="end">8.2</text>
<line x1="109.2" y1="1313.6" x2="114.0" y2="1313.6" stroke="#000" stroke-width="2.0"/>
<line x1="109.2" y1="1400.5" x2="114.0" y2="1400.5" stroke="#000" stroke-width="2.0"/>
<line x1="109.2" y1="1487.5" x2="114.0" y2="1487.5" stroke="#000" stroke-width="2.0"/>
<line x1="109.2" y1="1574.4" x2="114.0" y2="1574.4" stroke="#000" stroke-width="2.0"/>
<line x1="109.2" y1="1661.3" x2="114.0" y2="1661.3" stroke="#000" stroke-width="2.0"/>
<line x1="109.2" y1="1748.2" x2="114.0" y2="1748.2" stroke="#000" stroke-width="2.0"/>
<rect x="301.4" y="1329.6" width="51.7" height="25.0" fill="#00ff00" stroke="#000" stroke-width="1.4"/>
<text transform="translate(366.7 1352.0) scale(0.974 1)" font-size="27" text-anchor="start">alfalfa–maize rotation</text>
<rect x="301.4" y="1363.6" width="51.7" height="25.0" fill="#00ffff" stroke="#000" stroke-width="1.4"/>
<text transform="translate(366.7 1386.0) scale(0.974 1)" font-size="27" text-anchor="start">continuous maize cropping</text>
<text transform="translate(50.1 1678.6) scale(0.974 1) rotate(-90)" font-size="30.7" font-weight="bold" text-anchor="start" xml:space="preserve">pH in the bulk soil</text>
<text transform="translate(393.6 1841.6) scale(0.974 1)" font-size="37.6" font-weight="bold" text-anchor="start">pH</text>
<line x1="1049.3" y1="1384.6" x2="1049.3" y2="1629.0" stroke="#000" stroke-width="1.5"/>
<line x1="1046.7" y1="1384.6" x2="1051.9" y2="1384.6" stroke="#000" stroke-width="1.2"/>
<line x1="1046.7" y1="1629.0" x2="1051.9" y2="1629.0" stroke="#000" stroke-width="1.2"/>
<rect x="1022.4" y="1431.7" width="54.4" height="94.5" fill="#00ff00" stroke="#000" stroke-width="1.4"/>
<line x1="1022.4" y1="1476.3" x2="1076.8" y2="1476.3" stroke="#000" stroke-width="1.4"/>
<rect x="1047.7" y="1484.8" width="3.2" height="3.2" fill="none" stroke="#007000" stroke-width="0.7"/>
<path d="M1047.6 1378.1l6.5 6.5l-6.5 6.5l-6.5 -6.5zM1046.0 1384.8l6.5 6.5l-6.5 6.5l-6.5 -6.5zM1047.1 1401.6l6.5 6.5l-6.5 6.5l-6.5 -6.5zM1050.2 1404.1l6.5 6.5l-6.5 6.5l-6.5 -6.5zM1051.0 1414.7l6.5 6.5l-6.5 6.5l-6.5 -6.5zM1039.5 1422.9l6.5 6.5l-6.5 6.5l-6.5 -6.5zM1048.2 1422.9l6.5 6.5l-6.5 6.5l-6.5 -6.5zM1052.5 1431.5l6.5 6.5l-6.5 6.5l-6.5 -6.5zM1048.2 1436.9l6.5 6.5l-6.5 6.5l-6.5 -6.5zM1055.2 1442.0l6.5 6.5l-6.5 6.5l-6.5 -6.5zM1054.6 1453.7l6.5 6.5l-6.5 6.5l-6.5 -6.5zM1042.0 1460.2l6.5 6.5l-6.5 6.5l-6.5 -6.5zM1049.1 1470.6l6.5 6.5l-6.5 6.5l-6.5 -6.5zM1057.7 1470.0l6.5 6.5l-6.5 6.5l-6.5 -6.5zM1044.3 1490.2l6.5 6.5l-6.5 6.5l-6.5 -6.5zM1049.9 1494.1l6.5 6.5l-6.5 6.5l-6.5 -6.5zM1057.0 1489.1l6.5 6.5l-6.5 6.5l-6.5 -6.5zM1051.6 1509.2l6.5 6.5l-6.5 6.5l-6.5 -6.5zM1051.0 1516.5l6.5 6.5l-6.5 6.5l-6.5 -6.5zM1040.9 1519.9l6.5 6.5l-6.5 6.5l-6.5 -6.5zM1047.6 1527.4l6.5 6.5l-6.5 6.5l-6.5 -6.5zM1043.4 1549.8l6.5 6.5l-6.5 6.5l-6.5 -6.5zM1049.0 1572.2l6.5 6.5l-6.5 6.5l-6.5 -6.5zM1046.0 1576.5l6.5 6.5l-6.5 6.5l-6.5 -6.5zM1050.7 1584.9l6.5 6.5l-6.5 6.5l-6.5 -6.5zM1044.3 1612.6l6.5 6.5l-6.5 6.5l-6.5 -6.5zM1044.3 1622.5l6.5 6.5l-6.5 6.5l-6.5 -6.5z" fill="#000"/>
<text transform="translate(1109.0 1487.8) scale(0.974 1)" font-size="41" text-anchor="start">a</text>
<line x1="1385.2" y1="1517.8" x2="1385.2" y2="1728.9" stroke="#ff0000" stroke-width="1.5"/>
<line x1="1382.6" y1="1517.8" x2="1387.8" y2="1517.8" stroke="#ff0000" stroke-width="1.2"/>
<line x1="1382.6" y1="1728.9" x2="1387.8" y2="1728.9" stroke="#ff0000" stroke-width="1.2"/>
<rect x="1358.6" y="1571.2" width="53.9" height="89.8" fill="#00ffff" stroke="#ff0000" stroke-width="1.4"/>
<line x1="1358.6" y1="1604.8" x2="1412.5" y2="1604.8" stroke="#ff0000" stroke-width="1.4"/>
<rect x="1383.6" y="1614.7" width="3.2" height="3.2" fill="none" stroke="#e03030" stroke-width="0.7"/>
<path d="M1386.4 1511.3l6.5 6.5l-6.5 6.5l-6.5 -6.5zM1382.6 1518.9l6.5 6.5l-6.5 6.5l-6.5 -6.5zM1383.3 1530.6l6.5 6.5l-6.5 6.5l-6.5 -6.5zM1388.9 1533.2l6.5 6.5l-6.5 6.5l-6.5 -6.5zM1386.2 1540.8l6.5 6.5l-6.5 6.5l-6.5 -6.5zM1384.8 1552.0l6.5 6.5l-6.5 6.5l-6.5 -6.5zM1390.4 1552.8l6.5 6.5l-6.5 6.5l-6.5 -6.5zM1379.8 1565.2l6.5 6.5l-6.5 6.5l-6.5 -6.5zM1391.5 1571.8l6.5 6.5l-6.5 6.5l-6.5 -6.5zM1387.9 1577.4l6.5 6.5l-6.5 6.5l-6.5 -6.5zM1389.9 1582.0l6.5 6.5l-6.5 6.5l-6.5 -6.5zM1381.8 1589.1l6.5 6.5l-6.5 6.5l-6.5 -6.5zM1389.9 1590.1l6.5 6.5l-6.5 6.5l-6.5 -6.5zM1388.4 1597.3l6.5 6.5l-6.5 6.5l-6.5 -6.5zM1389.4 1600.3l6.5 6.5l-6.5 6.5l-6.5 -6.5zM1393.0 1624.7l6.5 6.5l-6.5 6.5l-6.5 -6.5zM1389.9 1627.3l6.5 6.5l-6.5 6.5l-6.5 -6.5zM1385.9 1632.4l6.5 6.5l-6.5 6.5l-6.5 -6.5zM1383.8 1643.0l6.5 6.5l-6.5 6.5l-6.5 -6.5zM1380.8 1644.6l6.5 6.5l-6.5 6.5l-6.5 -6.5zM1387.9 1655.2l6.5 6.5l-6.5 6.5l-6.5 -6.5zM1381.3 1658.3l6.5 6.5l-6.5 6.5l-6.5 -6.5zM1382.8 1670.2l6.5 6.5l-6.5 6.5l-6.5 -6.5zM1387.9 1689.8l6.5 6.5l-6.5 6.5l-6.5 -6.5zM1387.9 1701.0l6.5 6.5l-6.5 6.5l-6.5 -6.5zM1393.8 1709.2l6.5 6.5l-6.5 6.5l-6.5 -6.5zM1384.1 1722.4l6.5 6.5l-6.5 6.5l-6.5 -6.5z" fill="#000"/>
<text transform="translate(1441.0 1630.3) scale(0.974 1)" font-size="41" text-anchor="start">b</text>
<rect x="882.0" y="1313.6" width="671.6" height="478.4" fill="none" stroke="#000" stroke-width="2.0"/>
<line x1="873.0" y1="1366.8" x2="882.0" y2="1366.8" stroke="#000" stroke-width="2.0"/>
<text transform="translate(867.0 1375.8) scale(0.974 1)" font-size="27" text-anchor="end">9</text>
<line x1="873.0" y1="1473.0" x2="882.0" y2="1473.0" stroke="#000" stroke-width="2.0"/>
<text transform="translate(867.0 1482.0) scale(0.974 1)" font-size="27" text-anchor="end">8</text>
<line x1="873.0" y1="1579.2" x2="882.0" y2="1579.2" stroke="#000" stroke-width="2.0"/>
<text transform="translate(867.0 1588.2) scale(0.974 1)" font-size="27" text-anchor="end">7</text>
<line x1="873.0" y1="1685.4" x2="882.0" y2="1685.4" stroke="#000" stroke-width="2.0"/>
<text transform="translate(867.0 1694.4) scale(0.974 1)" font-size="27" text-anchor="end">6</text>
<line x1="873.0" y1="1791.6" x2="882.0" y2="1791.6" stroke="#000" stroke-width="2.0"/>
<text transform="translate(867.0 1800.6) scale(0.974 1)" font-size="27" text-anchor="end">5</text>
<line x1="877.2" y1="1313.7" x2="882.0" y2="1313.7" stroke="#000" stroke-width="2.0"/>
<line x1="877.2" y1="1419.9" x2="882.0" y2="1419.9" stroke="#000" stroke-width="2.0"/>
<line x1="877.2" y1="1526.1" x2="882.0" y2="1526.1" stroke="#000" stroke-width="2.0"/>
<line x1="877.2" y1="1632.3" x2="882.0" y2="1632.3" stroke="#000" stroke-width="2.0"/>
<line x1="877.2" y1="1738.5" x2="882.0" y2="1738.5" stroke="#000" stroke-width="2.0"/>
<rect x="1080.9" y="1329.6" width="51.7" height="25.0" fill="#00ff00" stroke="#000" stroke-width="1.4"/>
<text transform="translate(1146.2 1352.0) scale(0.974 1)" font-size="27" text-anchor="start">alfalfa–maize rotation</text>
<rect x="1080.9" y="1363.6" width="51.7" height="25.0" fill="#00ffff" stroke="#ff0000" stroke-width="1.4"/>
<text transform="translate(1146.2 1386.0) scale(0.974 1)" font-size="27" text-anchor="start">continuous maize cropping</text>
<text transform="translate(825.3 1678.7) scale(0.974 1) rotate(-90)" font-size="30.7" font-weight="bold" text-anchor="start" xml:space="preserve">SOC in bulk soil(g·kg<tspan font-size="20" dy="-12.4">-1</tspan><tspan dy="12.4">)</tspan></text>
<text transform="translate(1199.5 1842.6) scale(0.974 1)" font-size="39" font-weight="bold" text-anchor="start">SOC</text>
<line x1="281.9" y1="1937.9" x2="281.9" y2="2187.5" stroke="#000" stroke-width="1.5"/>
<line x1="279.3" y1="1937.9" x2="284.5" y2="1937.9" stroke="#000" stroke-width="1.2"/>
<line x1="279.3" y1="2187.5" x2="284.5" y2="2187.5" stroke="#000" stroke-width="1.2"/>
<rect x="255.0" y="2001.8" width="54.4" height="93.6" fill="#00ff00" stroke="#000" stroke-width="1.4"/>
<line x1="255.0" y1="2049.2" x2="309.4" y2="2049.2" stroke="#000" stroke-width="1.4"/>
<path d="M281.0 1931.4l6.5 6.5l-6.5 6.5l-6.5 -6.5zM280.0 1946.3l6.5 6.5l-6.5 6.5l-6.5 -6.5zM284.5 1963.1l6.5 6.5l-6.5 6.5l-6.5 -6.5zM278.5 1979.0l6.5 6.5l-6.5 6.5l-6.5 -6.5zM285.0 1978.3l6.5 6.5l-6.5 6.5l-6.5 -6.5zM280.2 1984.6l6.5 6.5l-6.5 6.5l-6.5 -6.5zM283.0 1990.8l6.5 6.5l-6.5 6.5l-6.5 -6.5zM280.2 1995.3l6.5 6.5l-6.5 6.5l-6.5 -6.5zM286.9 2005.6l6.5 6.5l-6.5 6.5l-6.5 -6.5zM272.1 2012.1l6.5 6.5l-6.5 6.5l-6.5 -6.5zM274.6 2016.0l6.5 6.5l-6.5 6.5l-6.5 -6.5zM276.8 2023.9l6.5 6.5l-6.5 6.5l-6.5 -6.5zM289.7 2036.5l6.5 6.5l-6.5 6.5l-6.5 -6.5zM279.1 2039.0l6.5 6.5l-6.5 6.5l-6.5 -6.5zM282.4 2039.0l6.5 6.5l-6.5 6.5l-6.5 -6.5zM282.4 2047.4l6.5 6.5l-6.5 6.5l-6.5 -6.5zM281.3 2055.8l6.5 6.5l-6.5 6.5l-6.5 -6.5zM272.9 2063.1l6.5 6.5l-6.5 6.5l-6.5 -6.5zM280.2 2063.1l6.5 6.5l-6.5 6.5l-6.5 -6.5zM283.3 2067.6l6.5 6.5l-6.5 6.5l-6.5 -6.5zM281.0 2081.1l6.5 6.5l-6.5 6.5l-6.5 -6.5zM290.3 2086.7l6.5 6.5l-6.5 6.5l-6.5 -6.5zM286.9 2090.0l6.5 6.5l-6.5 6.5l-6.5 -6.5zM281.9 2092.3l6.5 6.5l-6.5 6.5l-6.5 -6.5zM276.3 2121.8l6.5 6.5l-6.5 6.5l-6.5 -6.5zM278.5 2121.8l6.5 6.5l-6.5 6.5l-6.5 -6.5zM283.8 2124.8l6.5 6.5l-6.5 6.5l-6.5 -6.5zM276.8 2170.7l6.5 6.5l-6.5 6.5l-6.5 -6.5zM276.3 2181.4l6.5 6.5l-6.5 6.5l-6.5 -6.5zM283.2 2180.3l6.5 6.5l-6.5 6.5l-6.5 -6.5z" fill="#000"/>
<text transform="translate(339.9 2060.8) scale(0.974 1)" font-size="41" text-anchor="start">a</text>
<line x1="617.7" y1="2062.3" x2="617.7" y2="2232.0" stroke="#ff0000" stroke-width="1.5"/>
<line x1="615.1" y1="2062.3" x2="620.3" y2="2062.3" stroke="#ff0000" stroke-width="1.2"/>
<line x1="615.1" y1="2232.0" x2="620.3" y2="2232.0" stroke="#ff0000" stroke-width="1.2"/>
<rect x="591.1" y="2128.5" width="53.7" height="61.5" fill="#00ffff" stroke="#ff0000" stroke-width="1.4"/>
<line x1="591.1" y1="2145.9" x2="644.8" y2="2145.9" stroke="#ff0000" stroke-width="1.4"/>
<rect x="616.2" y="2152.6" width="3.2" height="3.2" fill="none" stroke="#e03030" stroke-width="0.7"/>
<path d="M618.7 2055.8l6.5 6.5l-6.5 6.5l-6.5 -6.5zM614.9 2068.7l6.5 6.5l-6.5 6.5l-6.5 -6.5zM616.4 2076.1l6.5 6.5l-6.5 6.5l-6.5 -6.5zM618.2 2100.8l6.5 6.5l-6.5 6.5l-6.5 -6.5zM622.0 2101.6l6.5 6.5l-6.5 6.5l-6.5 -6.5zM620.9 2109.1l6.5 6.5l-6.5 6.5l-6.5 -6.5zM620.9 2116.6l6.5 6.5l-6.5 6.5l-6.5 -6.5zM617.8 2121.6l6.5 6.5l-6.5 6.5l-6.5 -6.5zM614.5 2125.7l6.5 6.5l-6.5 6.5l-6.5 -6.5zM620.3 2127.8l6.5 6.5l-6.5 6.5l-6.5 -6.5zM612.0 2131.5l6.5 6.5l-6.5 6.5l-6.5 -6.5zM617.8 2131.5l6.5 6.5l-6.5 6.5l-6.5 -6.5zM621.2 2134.9l6.5 6.5l-6.5 6.5l-6.5 -6.5zM617.8 2139.0l6.5 6.5l-6.5 6.5l-6.5 -6.5zM614.1 2143.2l6.5 6.5l-6.5 6.5l-6.5 -6.5zM622.8 2142.3l6.5 6.5l-6.5 6.5l-6.5 -6.5zM626.1 2151.9l6.5 6.5l-6.5 6.5l-6.5 -6.5zM614.1 2155.2l6.5 6.5l-6.5 6.5l-6.5 -6.5zM617.0 2158.5l6.5 6.5l-6.5 6.5l-6.5 -6.5zM621.2 2167.7l6.5 6.5l-6.5 6.5l-6.5 -6.5zM622.8 2172.2l6.5 6.5l-6.5 6.5l-6.5 -6.5zM617.2 2183.5l6.5 6.5l-6.5 6.5l-6.5 -6.5zM622.2 2193.3l6.5 6.5l-6.5 6.5l-6.5 -6.5zM621.2 2207.1l6.5 6.5l-6.5 6.5l-6.5 -6.5zM612.9 2213.5l6.5 6.5l-6.5 6.5l-6.5 -6.5zM614.1 2225.8l6.5 6.5l-6.5 6.5l-6.5 -6.5zM624.9 2223.3l6.5 6.5l-6.5 6.5l-6.5 -6.5z" fill="#000"/>
<text transform="translate(677.5 2170.2) scale(0.974 1)" font-size="41" text-anchor="start">b</text>
<line x1="114.0" y1="1869.2" x2="785.9" y2="1869.2" stroke="#000" stroke-width="2.0"/>
<line x1="114.0" y1="1860.7" x2="114.0" y2="2341.2" stroke="#000" stroke-width="2.0"/>
<line x1="785.9" y1="1860.7" x2="785.9" y2="2341.2" stroke="#000" stroke-width="2.0"/>
<line x1="113.0" y1="2340.2" x2="786.9" y2="2340.2" stroke="#000" stroke-width="2.0"/>
<line x1="105.0" y1="1914.0" x2="114.0" y2="1914.0" stroke="#000" stroke-width="2.0"/>
<text transform="translate(99.0 1923.0) scale(0.974 1)" font-size="27" text-anchor="end">8</text>
<line x1="105.0" y1="2020.6" x2="114.0" y2="2020.6" stroke="#000" stroke-width="2.0"/>
<text transform="translate(99.0 2029.6) scale(0.974 1)" font-size="27" text-anchor="end">7</text>
<line x1="105.0" y1="2127.1" x2="114.0" y2="2127.1" stroke="#000" stroke-width="2.0"/>
<text transform="translate(99.0 2136.1) scale(0.974 1)" font-size="27" text-anchor="end">6</text>
<line x1="105.0" y1="2233.7" x2="114.0" y2="2233.7" stroke="#000" stroke-width="2.0"/>
<text transform="translate(99.0 2242.7) scale(0.974 1)" font-size="27" text-anchor="end">5</text>
<line x1="105.0" y1="2340.2" x2="114.0" y2="2340.2" stroke="#000" stroke-width="2.0"/>
<text transform="translate(99.0 2349.2) scale(0.974 1)" font-size="27" text-anchor="end">4</text>
<line x1="109.2" y1="1860.7" x2="114.0" y2="1860.7" stroke="#000" stroke-width="2.0"/>
<line x1="109.2" y1="1967.3" x2="114.0" y2="1967.3" stroke="#000" stroke-width="2.0"/>
<line x1="109.2" y1="2073.8" x2="114.0" y2="2073.8" stroke="#000" stroke-width="2.0"/>
<line x1="109.2" y1="2180.4" x2="114.0" y2="2180.4" stroke="#000" stroke-width="2.0"/>
<line x1="109.2" y1="2287.0" x2="114.0" y2="2287.0" stroke="#000" stroke-width="2.0"/>
<rect x="301.4" y="1889.8" width="51.7" height="25.0" fill="#00ff00" stroke="#000" stroke-width="1.4"/>
<text transform="translate(366.7 1912.2) scale(0.974 1)" font-size="27" text-anchor="start">alfalfa–maize rotation</text>
<rect x="301.4" y="1923.8" width="51.7" height="25.0" fill="#00ffff" stroke="#ff0000" stroke-width="1.4"/>
<text transform="translate(366.7 1946.2) scale(0.974 1)" font-size="27" text-anchor="start">continuous maize cropping</text>
<text transform="translate(59.4 2255.7) scale(0.974 1) rotate(-90)" font-size="30.7" font-weight="bold" text-anchor="start" xml:space="preserve">SIC in bulk soil (g·kg<tspan font-size="20" dy="-12.4">-1</tspan><tspan dy="12.4">)</tspan></text>
<text transform="translate(393.3 2396.6) scale(0.974 1)" font-size="39.3" font-weight="bold" text-anchor="start">SIC</text>
<line x1="1049.6" y1="1933.0" x2="1049.6" y2="2148.6" stroke="#000" stroke-width="1.5"/>
<line x1="1047.0" y1="1933.0" x2="1052.2" y2="1933.0" stroke="#000" stroke-width="1.2"/>
<line x1="1047.0" y1="2148.6" x2="1052.2" y2="2148.6" stroke="#000" stroke-width="1.2"/>
<rect x="1022.4" y="2013.0" width="54.3" height="87.4" fill="#00ff00" stroke="#000" stroke-width="1.4"/>
<line x1="1022.4" y1="2076.6" x2="1076.7" y2="2076.6" stroke="#000" stroke-width="1.4"/>
<path d="M1047.5 1926.6l6.5 6.5l-6.5 6.5l-6.5 -6.5zM1046.1 1950.5l6.5 6.5l-6.5 6.5l-6.5 -6.5zM1047.0 1982.2l6.5 6.5l-6.5 6.5l-6.5 -6.5zM1050.0 1998.2l6.5 6.5l-6.5 6.5l-6.5 -6.5zM1048.9 2006.2l6.5 6.5l-6.5 6.5l-6.5 -6.5zM1051.1 2006.2l6.5 6.5l-6.5 6.5l-6.5 -6.5zM1054.3 2006.2l6.5 6.5l-6.5 6.5l-6.5 -6.5zM1048.1 2022.2l6.5 6.5l-6.5 6.5l-6.5 -6.5zM1039.7 2038.2l6.5 6.5l-6.5 6.5l-6.5 -6.5zM1050.0 2046.1l6.5 6.5l-6.5 6.5l-6.5 -6.5zM1048.9 2054.1l6.5 6.5l-6.5 6.5l-6.5 -6.5zM1050.0 2062.2l6.5 6.5l-6.5 6.5l-6.5 -6.5zM1051.6 2070.1l6.5 6.5l-6.5 6.5l-6.5 -6.5zM1042.0 2078.2l6.5 6.5l-6.5 6.5l-6.5 -6.5zM1049.8 2078.2l6.5 6.5l-6.5 6.5l-6.5 -6.5zM1041.1 2086.1l6.5 6.5l-6.5 6.5l-6.5 -6.5zM1056.6 2086.1l6.5 6.5l-6.5 6.5l-6.5 -6.5zM1045.4 2094.1l6.5 6.5l-6.5 6.5l-6.5 -6.5zM1054.3 2094.1l6.5 6.5l-6.5 6.5l-6.5 -6.5zM1047.5 2102.1l6.5 6.5l-6.5 6.5l-6.5 -6.5zM1044.5 2118.1l6.5 6.5l-6.5 6.5l-6.5 -6.5zM1058.0 2118.1l6.5 6.5l-6.5 6.5l-6.5 -6.5zM1044.2 2142.1l6.5 6.5l-6.5 6.5l-6.5 -6.5zM1045.9 2142.1l6.5 6.5l-6.5 6.5l-6.5 -6.5z" fill="#000"/>
<text transform="translate(1106.9 2073.3) scale(0.974 1)" font-size="41" text-anchor="start">a</text>
<line x1="1385.0" y1="2044.8" x2="1385.0" y2="2284.8" stroke="#ff0000" stroke-width="1.5"/>
<line x1="1382.4" y1="2044.8" x2="1387.6" y2="2044.8" stroke="#ff0000" stroke-width="1.2"/>
<line x1="1382.4" y1="2284.8" x2="1387.6" y2="2284.8" stroke="#ff0000" stroke-width="1.2"/>
<rect x="1358.5" y="2140.6" width="53.6" height="72.2" fill="#00ffff" stroke="#ff0000" stroke-width="1.4"/>
<line x1="1358.5" y1="2188.4" x2="1412.1" y2="2188.4" stroke="#ff0000" stroke-width="1.4"/>
<path d="M1386.0 2038.3l6.5 6.5l-6.5 6.5l-6.5 -6.5zM1381.6 2078.1l6.5 6.5l-6.5 6.5l-6.5 -6.5zM1389.8 2102.1l6.5 6.5l-6.5 6.5l-6.5 -6.5zM1381.6 2110.0l6.5 6.5l-6.5 6.5l-6.5 -6.5zM1389.8 2126.2l6.5 6.5l-6.5 6.5l-6.5 -6.5zM1380.8 2134.1l6.5 6.5l-6.5 6.5l-6.5 -6.5zM1388.0 2134.1l6.5 6.5l-6.5 6.5l-6.5 -6.5zM1382.3 2142.2l6.5 6.5l-6.5 6.5l-6.5 -6.5zM1381.6 2150.0l6.5 6.5l-6.5 6.5l-6.5 -6.5zM1384.2 2166.0l6.5 6.5l-6.5 6.5l-6.5 -6.5zM1386.2 2174.1l6.5 6.5l-6.5 6.5l-6.5 -6.5zM1390.7 2174.1l6.5 6.5l-6.5 6.5l-6.5 -6.5zM1389.2 2181.9l6.5 6.5l-6.5 6.5l-6.5 -6.5zM1379.6 2190.1l6.5 6.5l-6.5 6.5l-6.5 -6.5zM1390.4 2190.1l6.5 6.5l-6.5 6.5l-6.5 -6.5zM1394.0 2190.1l6.5 6.5l-6.5 6.5l-6.5 -6.5zM1388.6 2198.2l6.5 6.5l-6.5 6.5l-6.5 -6.5zM1383.2 2206.0l6.5 6.5l-6.5 6.5l-6.5 -6.5zM1385.6 2206.0l6.5 6.5l-6.5 6.5l-6.5 -6.5zM1383.8 2214.2l6.5 6.5l-6.5 6.5l-6.5 -6.5zM1386.0 2230.1l6.5 6.5l-6.5 6.5l-6.5 -6.5zM1391.0 2230.1l6.5 6.5l-6.5 6.5l-6.5 -6.5zM1393.4 2230.1l6.5 6.5l-6.5 6.5l-6.5 -6.5zM1383.4 2269.9l6.5 6.5l-6.5 6.5l-6.5 -6.5zM1386.8 2278.3l6.5 6.5l-6.5 6.5l-6.5 -6.5z" fill="#000"/>
<text transform="translate(1445.0 2194.9) scale(0.974 1)" font-size="41" text-anchor="start">b</text>
<rect x="882.0" y="1861.2" width="671.4" height="479.0" fill="none" stroke="#000" stroke-width="2.0"/>
<line x1="873.0" y1="1901.0" x2="882.0" y2="1901.0" stroke="#000" stroke-width="2.0"/>
<text transform="translate(867.0 1910.0) scale(0.974 1)" font-size="27" text-anchor="end">1.0</text>
<line x1="873.0" y1="2060.8" x2="882.0" y2="2060.8" stroke="#000" stroke-width="2.0"/>
<text transform="translate(867.0 2069.8) scale(0.974 1)" font-size="27" text-anchor="end">0.8</text>
<line x1="873.0" y1="2220.4" x2="882.0" y2="2220.4" stroke="#000" stroke-width="2.0"/>
<text transform="translate(867.0 2229.4) scale(0.974 1)" font-size="27" text-anchor="end">0.6</text>
<line x1="877.2" y1="1981.0" x2="882.0" y2="1981.0" stroke="#000" stroke-width="2.0"/>
<line x1="877.2" y1="2140.6" x2="882.0" y2="2140.6" stroke="#000" stroke-width="2.0"/>
<line x1="877.2" y1="2300.3" x2="882.0" y2="2300.3" stroke="#000" stroke-width="2.0"/>
<rect x="1080.9" y="1889.8" width="51.7" height="25.0" fill="#00ff00" stroke="#000" stroke-width="1.4"/>
<text transform="translate(1146.2 1912.2) scale(0.974 1)" font-size="27" text-anchor="start">alfalfa–maize rotation</text>
<rect x="1080.9" y="1923.8" width="51.7" height="25.0" fill="#00ffff" stroke="#ff0000" stroke-width="1.4"/>
<text transform="translate(1146.2 1946.2) scale(0.974 1)" font-size="27" text-anchor="start">continuous maize cropping</text>
<text transform="translate(824.6 2291.0) scale(0.974 1) rotate(-90)" font-size="30.7" font-weight="bold" text-anchor="start" xml:space="preserve">TN in the bulk soil (g·kg<tspan font-size="20" dy="-12.4">-1</tspan><tspan dy="12.4">)</tspan></text>
<text transform="translate(1211.5 2403.8) scale(0.974 1)" font-size="38" font-weight="bold" text-anchor="start">TN</text>
<text x="815.7" y="1158.2" font-size="53.4" text-anchor="start">(a)</text>
<text x="775.5" y="2460.0" font-size="52" text-anchor="start">(b)</text>
</svg>
</body></html>
